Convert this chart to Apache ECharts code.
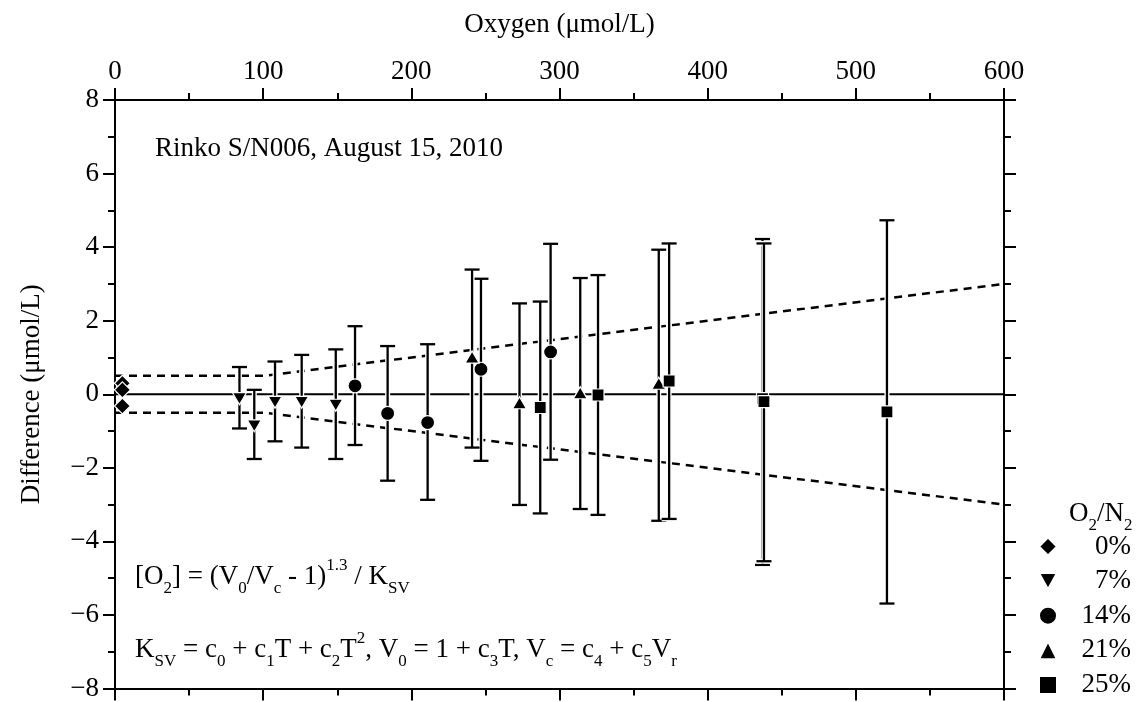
<!DOCTYPE html>
<html>
<head>
<meta charset="utf-8">
<script src="https://cdn.jsdelivr.net/npm/echarts@6/dist/echarts.min.js"></script>
<style>
html,body{margin:0;padding:0;background:#fff;}
#main{width:1142px;height:702px;}
</style>
</head>
<body>
<div id="main"></div>
<script>
// 数据
var xTicks = [0, 100, 200, 300, 400, 500, 600];
var yTicks = [-8, -6, -4, -2, 0, 2, 4, 6, 8];

// 0% O2/N2
var x0 = [5, 5, 5];
var y0 = [0.30, 0.12, -0.32];
// 7%
var x7 = [84, 94, 108, 126, 149];
var y7 = [-0.12, -0.86, -0.22, -0.22, -0.30];
var hi7 = [0.74, 0.12, 0.89, 1.07, 1.22];
var lo7 = [-0.93, -1.76, -1.28, -1.45, -1.76];
// 14%
var x14 = [162, 184, 211, 247, 294];
var y14 = [0.23, -0.52, -0.77, 0.68, 1.15];
var hi14 = [1.85, 1.31, 1.36, 3.14, 4.09];
var lo14 = [-1.38, -2.35, -2.87, -1.81, -1.78];
// 21%
var x21 = [241, 273, 314, 367];
var y21 = [1.01, -0.23, 0.04, 0.30];
var hi21 = [3.39, 2.47, 3.16, 3.93];
var lo21 = [-1.45, -3.01, -3.12, -3.44];
// 25%
var x25 = [287, 326, 374, 437, 438, 521];
var y25 = [-0.36, -0.02, 0.36, -0.12, -0.20, -0.48];
var hi25 = [2.52, 3.24, 4.10, 4.22, 4.10, 4.73];
var lo25 = [-3.24, -3.28, -3.39, -4.64, -4.54, -5.69];

// 允许范围 (虚线)
var limX = [0, 100, 600];
var limY = [0.5, 0.5, 3.0];
var zeroX = [0, 600];
var zeroY = [0, 0];

var FONT = "'Liberation Serif','Times New Roman',serif";

function pts(xs, ys){
	var arr = [];
	for (var i = 0; i < xs.length; i++) arr.push([xs[i], ys[i]]);
	return arr;
}
function errs(xs, lo, hi){
	var arr = [];
	for (var i = 0; i < xs.length; i++) arr.push([xs[i], lo[i], hi[i]]);
	return arr;
}
var errData = [].concat(errs(x7, lo7, hi7), errs(x14, lo14, hi14), errs(x21, lo21, hi21), errs(x25, lo25, hi25));

//误差线
function renderErr(params, api){
	var x = api.value(0);
	var top = api.coord([x, api.value(2)]);
	var bot = api.coord([x, api.value(1)]);
	var w = 7.5;
	var segs = [
		[top[0], top[1], bot[0], bot[1]],
		[top[0] - w, top[1], top[0] + w, top[1]],
		[bot[0] - w, bot[1], bot[0] + w, bot[1]]
	];
	var children = [];
	segs.forEach(function(s){
		children.push({type:'line', shape:{x1:s[0],y1:s[1],x2:s[2],y2:s[3]}, style:{stroke:'#fff', lineWidth:5}});
	});
	segs.forEach(function(s){
		children.push({type:'line', shape:{x1:s[0],y1:s[1],x2:s[2],y2:s[3]}, style:{stroke:'#000', lineWidth:2.3}});
	});
	return {type:'group', children:children};
}

var subRich = {
	m:{fontFamily:FONT, fontSize:27, fontWeight:'normal', color:'#000', lineHeight:40, verticalAlign:'middle'},
	s:{fontFamily:FONT, fontSize:17, fontWeight:'normal', color:'#000', lineHeight:17, verticalAlign:'bottom'},
	u:{fontFamily:FONT, fontSize:17, fontWeight:'normal', color:'#000', lineHeight:26, verticalAlign:'top'}
};

var triDown = 'path://M0,0 L10,0 L5,9 Z';
var markerStyle = {color:'#000', opacity:1, borderColor:'#fff', borderWidth:1.2};

// 坐标轴公共样式
function axisCommon(){
	return {
		axisLine:{show:true, onZero:false, lineStyle:{color:'#000', width:2}},
		axisTick:{show:true, inside:false, length:12, lineStyle:{color:'#000', width:2}},
		minorTick:{show:true, splitNumber:2, length:7, lineStyle:{color:'#000', width:2}},
		splitLine:{show:false}
	};
}

var myChart = echarts.init(document.getElementById('main'));
var option = {
	backgroundColor:'#fff',
	animation:false,
	grid:{left:115, right:138, top:100, bottom:12},
	title:{
		text:'{m|O}{s|2}{m|/N}{s|2}',
		left:1064, top:489,
		textStyle:{fontWeight:'normal', rich:subRich}
	},
	legend:{
		orient:'vertical',
		left:1038, top:533,
		height:180,
		padding:0,
		itemWidth:18, itemHeight:18,
		itemGap:7.6,
		data:['0%','7%','14%','21%','25%'],
		formatter:function(name){ return '{t|' + name + '}'; },
		textStyle:{
			rich:{t:{fontFamily:FONT, fontSize:27, color:'#000', width:69, align:'right'}}
		}
	},
	graphic:[
		{type:'text', left:155, top:135, style:{text:'Rinko S/N006, August 15, 2010', font:'27px ' + FONT, fill:'#000'}},
		{type:'text', left:135, top:557, style:{
			text:'{m|[O}{s|2}{m|] = (V}{s|0}{m|/V}{s|c}{m| - 1)}{u|1.3}{m| / K}{s|SV}',
			rich:subRich}},
		{type:'text', left:135, top:630, style:{
			text:'{m|K}{s|SV}{m| = c}{s|0}{m| + c}{s|1}{m|T + c}{s|2}{m|T}{u|2}{m|, V}{s|0}{m| = 1 + c}{s|3}{m|T, V}{s|c}{m| = c}{s|4}{m| + c}{s|5}{m|V}{s|r}',
			rich:subRich}}
	],
	xAxis:[
		Object.assign(axisCommon(), {
			type:'value', position:'top', min:xTicks[0], max:xTicks[xTicks.length-1], interval:100,
			name:'Oxygen (μmol/L)', nameLocation:'middle', nameGap:62,
			nameTextStyle:{fontFamily:FONT, fontSize:27, color:'#000'},
			axisLabel:{fontFamily:FONT, fontSize:27, color:'#000', margin:15}
		}),
		Object.assign(axisCommon(), {
			type:'value', position:'bottom', min:0, max:600, interval:100,
			axisLabel:{show:false}
		})
	],
	yAxis:[
		Object.assign(axisCommon(), {
			type:'value', position:'left', min:yTicks[0], max:yTicks[yTicks.length-1], interval:2,
			name:'Difference (μmol/L)', nameLocation:'middle', nameGap:70, nameRotate:90,
			nameTextStyle:{fontFamily:FONT, fontSize:27, color:'#000'},
			axisLabel:{fontFamily:FONT, fontSize:27, color:'#000', margin:16,
				formatter:function(v){ return v < 0 ? '\u2212' + Math.abs(v) : String(v); }}
		}),
		Object.assign(axisCommon(), {
			type:'value', position:'right', min:-8, max:8, interval:2,
			axisLabel:{show:false}
		})
	],
	series:[
		{ name:'zero', type:'line', data:pts(zeroX, zeroY), symbol:'none', silent:true, z:1,
		  lineStyle:{color:'#000', width:2} },
		{ name:'upper', type:'line', data:pts(limX, limY), symbol:'none', silent:true, z:1,
		  lineStyle:{color:'#000', width:2.5, type:[8,6]} },
		{ name:'lower', type:'line', data:pts(limX, limY.map(function(v){return -v;})), symbol:'none', silent:true, z:1,
		  lineStyle:{color:'#000', width:2.5, type:[8,6]} },
		{ name:'err', type:'custom', data:errData, renderItem:renderErr, silent:true, z:2 },
		{ name:'0%', type:'scatter', data:pts(x0, y0), symbol:'diamond', symbolSize:[16,16], z:3, itemStyle:markerStyle },
		{ name:'7%', type:'scatter', data:pts(x7, y7), symbol:triDown, symbolSize:[14,12], z:3, itemStyle:markerStyle },
		{ name:'14%', type:'scatter', data:pts(x14, y14), symbol:'circle', symbolSize:14, z:3, itemStyle:markerStyle },
		{ name:'21%', type:'scatter', data:pts(x21, y21), symbol:'triangle', symbolSize:[14,12], z:3, itemStyle:markerStyle },
		{ name:'25%', type:'scatter', data:pts(x25, y25), symbol:'rect', symbolSize:12, z:3, itemStyle:markerStyle }
	]
};
myChart.setOption(option);
</script>
</body>
</html>
